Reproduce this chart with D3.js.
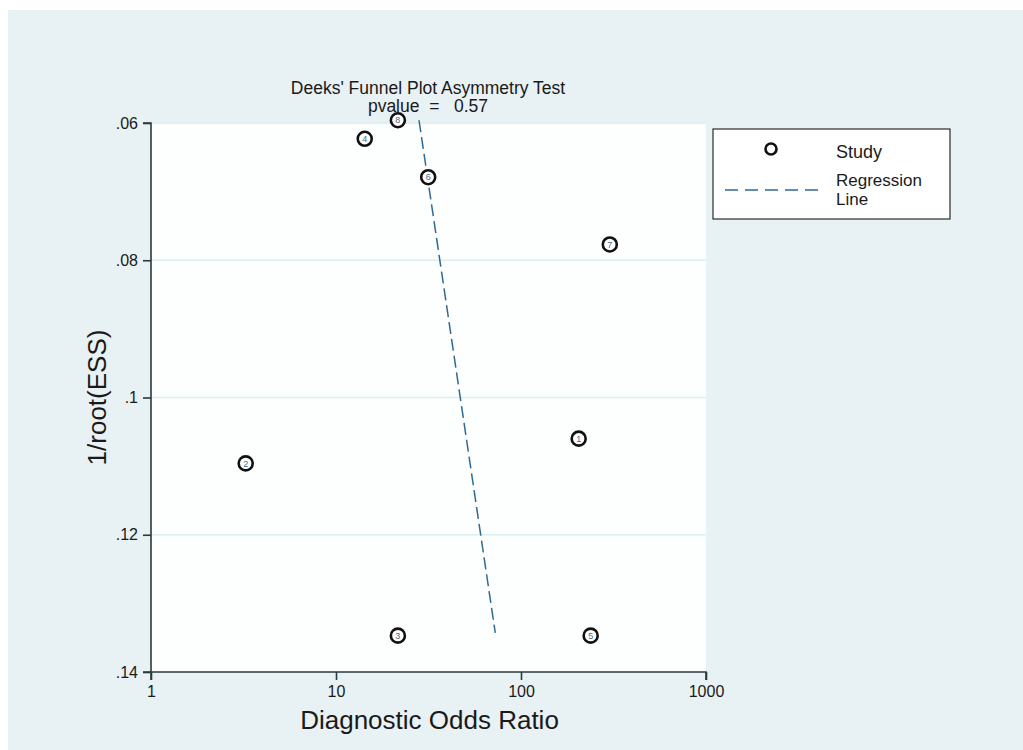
<!DOCTYPE html>
<html>
<head>
<meta charset="utf-8">
<script src="https://cdn.jsdelivr.net/npm/d3@7"></script>
<style>
  body { margin: 0; background: #fff; }
  text { font-family: "Liberation Sans", Arial, sans-serif; fill: #1a1a1a; }
</style>
</head>
<body>
<div id="chart"></div>
<script>
// study points: diagnostic odds ratio vs 1/root(ESS)
const studyIds = [1, 2, 3, 4, 5, 6, 7, 8];
const studyDOR = [205, 3.25, 21.6, 14.3, 238, 31.5, 302, 21.6];
const studyInvESS = [0.1060, 0.1096, 0.1347, 0.0623, 0.1347, 0.0679, 0.0777, 0.0596];

// regression line end points
const regDOR = [28.1, 72.6];
const regInvESS = [0.0596, 0.1343];

const xTicks = [1, 10, 100, 1000];
const yTicks = [0.06, 0.08, 0.10, 0.12, 0.14];
const yTickLabels = [".06", ".08", ".1", ".12", ".14"];

const width = 1023, height = 750;
const margin = {left: 151, top: 123, right: 1023 - 706, bottom: 750 - 672};

const svg = d3.select("#chart").append("svg")
    .attr("width", width)
    .attr("height", height);

// outer background
svg.append("rect")
    .attr("x", 8).attr("y", 10)
    .attr("width", width - 8).attr("height", height - 10)
    .attr("fill", "#e8f1f4");

const x = d3.scaleLog()
    .domain([1, 1000])
    .range([margin.left, width - margin.right]);

const y = d3.scaleLinear()
    .domain([0.06, 0.14])
    .range([margin.top, height - margin.bottom]);

// plot region
svg.append("rect")
    .attr("x", margin.left).attr("y", margin.top)
    .attr("width", x(1000) - x(1)).attr("height", y(0.14) - y(0.06))
    .attr("fill", "#fdfefe");

// gridlines
svg.append("g")
    .selectAll("line")
    .data(yTicks.slice(0, 4))
    .join("line")
    .attr("x1", x(1)).attr("x2", x(1000))
    .attr("y1", d => y(d)).attr("y2", d => y(d))
    .attr("stroke", "#dcecef")
    .attr("stroke-width", 1.3);

// axes
const xAxis = svg.append("g")
    .attr("transform", `translate(0,${y(0.14)})`)
    .call(d3.axisBottom(x).tickValues(xTicks).tickFormat(d3.format("d")).tickSize(8).tickPadding(6));
const yAxis = svg.append("g")
    .attr("transform", `translate(${x(1)},0)`)
    .call(d3.axisLeft(y).tickValues(yTicks).tickFormat((d, i) => yTickLabels[i]).tickSize(8).tickPadding(5));

[xAxis, yAxis].forEach(g => {
  g.select(".domain").attr("stroke", "#2b3a3a").attr("stroke-width", 1.6);
  g.selectAll(".tick line").attr("stroke", "#2b3a3a").attr("stroke-width", 1.6);
  g.selectAll(".tick text")
      .style("font-family", "'Liberation Sans', Arial, sans-serif")
      .style("font-size", "16px")
      .attr("fill", "#1a1a1a");
});
xAxis.select(".domain").attr("d", `M${x(1)},8V0H${x(1000)}V8`);
yAxis.select(".domain").attr("d", `M-8,${y(0.06)}H0V${y(0.14)}H-8`);

// axis titles
svg.append("text")
    .attr("x", (x(1) + x(1000)) / 2 + 1)
    .attr("y", 729)
    .attr("text-anchor", "middle")
    .style("font-size", "26px")
    .text("Diagnostic Odds Ratio");

svg.append("text")
    .attr("transform", `translate(106,${(y(0.06) + y(0.14)) / 2}) rotate(-90)`)
    .attr("text-anchor", "middle")
    .style("font-size", "26px")
    .text("1/root(ESS)");

// title
svg.append("text")
    .attr("x", 428).attr("y", 94)
    .attr("text-anchor", "middle")
    .style("font-size", "17.5px")
    .text("Deeks' Funnel Plot Asymmetry Test");
svg.append("text")
    .attr("x", 428).attr("y", 112)
    .attr("text-anchor", "middle")
    .style("font-size", "17.5px")
    .attr("xml:space", "preserve")
    .text("pvalue  =   0.57");

// regression line
svg.append("line")
    .attr("x1", x(regDOR[0])).attr("y1", y(regInvESS[0]))
    .attr("x2", x(regDOR[1])).attr("y2", y(regInvESS[1]))
    .attr("stroke", "#2f6a92")
    .attr("stroke-width", 1.5)
    .attr("stroke-dasharray", "12,5");

// study points
const studies = studyIds.map((id, i) => ({id, dor: studyDOR[i], v: studyInvESS[i]}));
const pts = svg.append("g")
    .selectAll("g")
    .data(studies)
    .join("g")
    .attr("transform", d => `translate(${x(d.dor)},${y(d.v)})`);
pts.append("circle")
    .attr("r", 7)
    .attr("fill", "#fff")
    .attr("stroke", "#111")
    .attr("stroke-width", 2.6);
pts.append("text")
    .attr("text-anchor", "middle")
    .attr("dy", "0.35em")
    .style("font-size", "9px")
    .style("fill", "#4a6a80")
    .text(d => d.id);

// legend
const lg = svg.append("g");
lg.append("rect")
    .attr("x", 713).attr("y", 129)
    .attr("width", 237).attr("height", 90)
    .attr("fill", "#fff")
    .attr("stroke", "#2b2b2b")
    .attr("stroke-width", 1.2);
lg.append("circle")
    .attr("cx", 771).attr("cy", 149)
    .attr("r", 5.5)
    .attr("fill", "#fff")
    .attr("stroke", "#111")
    .attr("stroke-width", 2.6);
lg.append("text").attr("x", 836).attr("y", 158).style("font-size", "18px").text("Study");
lg.append("line")
    .attr("x1", 725).attr("x2", 820)
    .attr("y1", 190).attr("y2", 190)
    .attr("stroke", "#2f6a92")
    .attr("stroke-width", 1.5)
    .attr("stroke-dasharray", "13,7");
lg.append("text").attr("x", 836).attr("y", 186).style("font-size", "17px").text("Regression");
lg.append("text").attr("x", 836).attr("y", 205).style("font-size", "17px").text("Line");
</script>
</body>
</html>
